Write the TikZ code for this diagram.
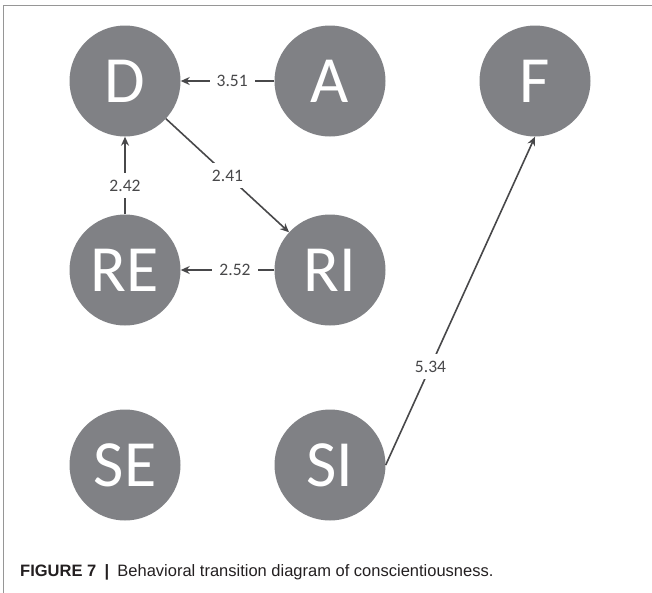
\documentclass[tikz,border=0pt]{standalone}
\usepackage{fontspec}
\setmainfont{Carlito}
\newfontfamily\capfont{Liberation Sans}
\usetikzlibrary{arrows.meta}
\definecolor{nodegray}{RGB}{128,129,133}
\definecolor{edgegray}{RGB}{72,72,74}
\definecolor{framegray}{RGB}{150,150,150}
\definecolor{captext}{RGB}{35,31,32}
\tikzset{
  state/.style={circle, fill=nodegray, minimum size=111pt, inner sep=0pt, text=white,
    font=\fontsize{66}{66}\selectfont},
  trans/.style={draw=edgegray, line width=1.6pt, -{Stealth[length=9pt,width=8pt]}},
  weight/.style={fill=white, text=edgegray, inner sep=7pt, font=\fontsize{17.5}{18}\selectfont},
}
\begin{document}
\begin{tikzpicture}[x=1pt,y=-1pt]
\useasboundingbox (0,0) rectangle (652,592);
\draw[framegray, line width=1pt] (3,600) -- (3,5) -- (660,5);
\node[state] (D) at (125,81) {D};
\node[state] (A) at (330,81) {A};
\node[state] (F) at (535,81) {F};
\node[state] (RE) at (125,270) {RE};
\node[state] (RI) at (330,270) {RI};
\node[state] (SE) at (125,465) {SE};
\node[state] (SI) at (330,465) {SI};
\draw[trans] (A) -- node[weight, pos=0.45] {3.51} (D);
\draw[trans] (D) -- node[weight, pos=0.5] {2.41} (RI);
\draw[trans] (RE) -- node[weight, pos=0.37] {2.42} (D);
\draw[trans] (RI) -- node[weight, pos=0.42] {2.52} (RE);
\draw[trans] (SI.east) -- node[weight, pos=0.3] {5.34} (F.south);
\node[anchor=base west, inner sep=0pt, text=captext, font=\capfont\fontsize{16.5}{17}\selectfont] (cap) at (20,576)
  {\textbf{FIGURE 7}\enspace\textbf{|}\enspace Behavioral transition diagram of conscientiousness.};
\end{tikzpicture}
\end{document}
